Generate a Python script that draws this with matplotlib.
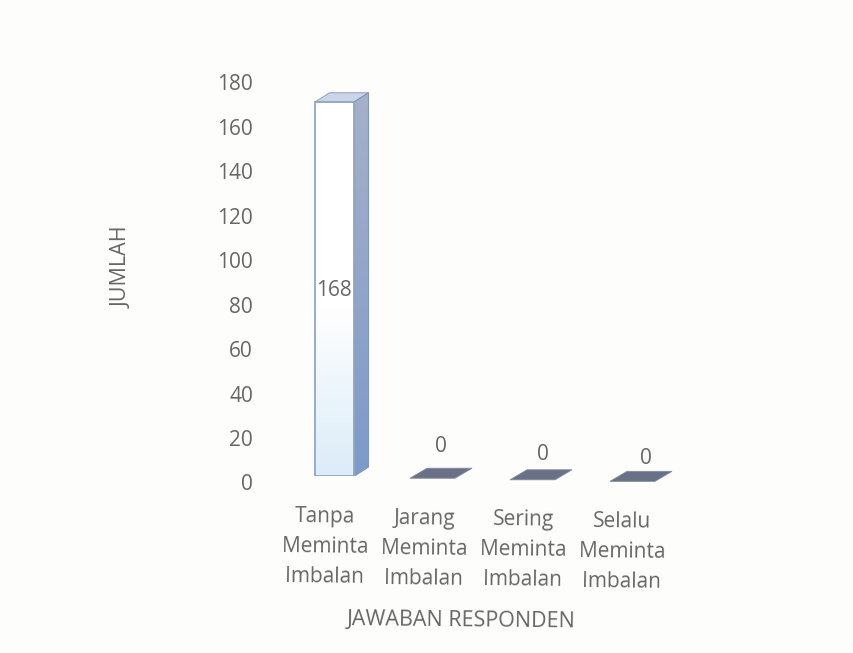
import matplotlib
matplotlib.use("Agg")
import matplotlib.pyplot as plt
from matplotlib.patches import Polygon
from matplotlib.colors import LinearSegmentedColormap
import numpy as np

categories = ["Tanpa\nMeminta\nImbalan", "Jarang\nMeminta\nImbalan",
              "Sering\nMeminta\nImbalan", "Selalu\nMeminta\nImbalan"]
values = [168, 0, 0, 0]
y_ticks = [0, 20, 40, 60, 80, 100, 120, 140, 160, 180]
y_title = "JUMLAH"
x_title = "JAWABAN RESPONDEN"

W, H = 854, 653
TXT = "#666666"
plt.rcParams["font.family"] = ["Open Sans", "DejaVu Sans"]
fig = plt.figure(figsize=(W / 100, H / 100), dpi=100, facecolor="#fdfdfb")

# axes box in pixels: zero plane at y=476, 180 at y=75
ax_l, ax_r, ax_b, ax_t = 300, 700, 476, 75
ax = fig.add_axes([ax_l / W, 1 - ax_b / H, (ax_r - ax_l) / W, (ax_b - ax_t) / H])
ax.axis("off")
ax.patch.set_visible(False)

bar_w, dep_x, dep_y = 0.39, 14 / 100.0, 9 / (ax_b - ax_t) * 180
front = LinearSegmentedColormap.from_list("f", ["#dcecf8", "#ffffff"])
side = LinearSegmentedColormap.from_list("s", ["#7c9bc8", "#a5b1c8"])

for i, v in enumerate(values):
    if v > 0:
        x0 = i - bar_w / 2
        grad = np.clip(np.linspace(1, 0, 64).reshape(-1, 1) * 2.2, 0, 1)
        ax.imshow(grad, extent=[x0, x0 + bar_w, 0, v], cmap=front,
                  aspect="auto", zorder=2, vmin=0, vmax=1)
        ax.bar(i, v, bar_w, facecolor="none", edgecolor="#8fa6c6", linewidth=1.3, zorder=3)
        side_poly = Polygon([[x0 + bar_w, 0], [x0 + bar_w + dep_x, dep_y],
                             [x0 + bar_w + dep_x, v + dep_y], [x0 + bar_w, v]],
                            facecolor="none", edgecolor="#8496b8", lw=0.8, zorder=2.5)
        ax.add_patch(side_poly)
        im = ax.imshow(np.linspace(1, 0, 64).reshape(-1, 1), cmap=side, aspect="auto",
                       extent=[x0 + bar_w, x0 + bar_w + dep_x, 0, v + dep_y], zorder=2)
        im.set_clip_path(side_poly)
        ax.add_patch(Polygon([[x0, v], [x0 + bar_w, v], [x0 + bar_w + dep_x, v + dep_y],
                              [x0 + dep_x, v + dep_y]],
                             facecolor="#c9d6ea", edgecolor="#98a9c6", lw=0.8, zorder=2))
    else:
        w, dx = 0.45, 0.17
        x0 = i - 0.25
        sag = -0.7 * (i - 1) - 1.0
        dy = 10 / (ax_b - ax_t) * 180
        ax.add_patch(Polygon([[x0, sag], [x0 + w, sag], [x0 + w + dx, sag + dy], [x0 + dx, sag + dy]],
                             facecolor="#6a7186", edgecolor="#8089a0", lw=0.6, zorder=2,
                             clip_on=False))
ax.set_xlim(-0.35, 3.65)
ax.set_ylim(0, 180)

def put(xp, yp, s, **kw):
    fig.text(xp / W, 1 - yp / H, s, color=TXT, **kw)

# value labels
put(334, 291, str(values[0]), ha="center", va="center", fontsize=15, zorder=5)
for xp, yp, v in zip([441, 543, 646], [447, 455, 459], values[1:]):
    put(xp, yp, str(v), ha="center", va="center", fontsize=15)

# y tick labels
for t in y_ticks:
    yp = 485 - t * (485 - 85) / 180
    put(253, yp, str(t), ha="right", va="center", fontsize=15)

# category labels
for xp, yp, s in zip([325, 424, 523, 622], [547, 549, 550, 552], categories):
    put(xp, yp, s, ha="center", va="center", fontsize=15, linespacing=1.55, rotation=-0.6)

put(122, 267, y_title, ha="center", va="center", rotation=90, fontsize=15.5)
put(461, 621, x_title, ha="center", va="center", fontsize=15.5, rotation=-0.6)

fig.savefig("out.png", dpi=100, facecolor=fig.get_facecolor())
